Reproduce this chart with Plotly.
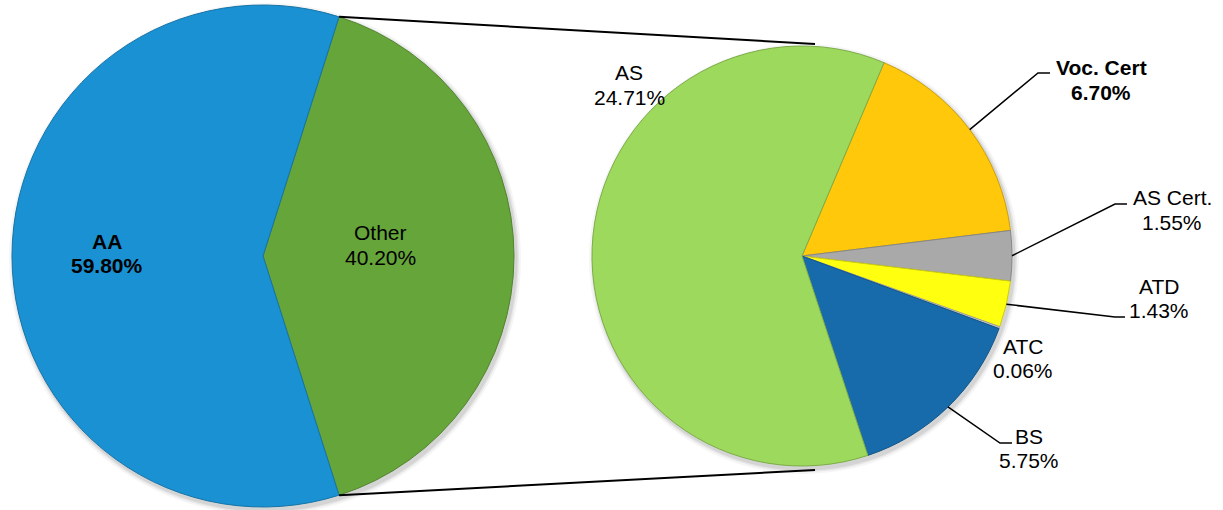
import math
import plotly.graph_objects as go

W, H = 1223, 510

# Main pie: share of awards
main_labels = ["Other", "AA"]
main_values = [40.20, 59.80]
main_colors = ["#66A53A", "#1A91D2"]
main_bold = [False, True]

# Breakdown of "Other"
sub_labels = ["Voc. Cert", "AS Cert.", "ATD", "ATC", "BS", "AS"]
sub_values = [6.70, 1.55, 1.43, 0.06, 5.75, 24.71]
sub_colors = ["#FFC80A", "#A9A9A9", "#FFFF10", "#C8C8C8", "#176BAA", "#9DD95C"]
sub_bold = [True, False, False, False, False, False]

FONT = "Liberation Sans, Arial, sans-serif"
FONT_SIZE = 21
LINE_GAP = 12  # half distance between the two text lines of a label

# pie geometry in pixels (center x, center y, radius)
LEFT = (263, 256, 251)
RIGHT = (802, 256, 210)
SUB_ROTATION = 23

other_sweep = 360 * main_values[0] / sum(main_values)
MAIN_ROTATION = 90 - other_sweep / 2


def px(x, y):
    return x / W, 1 - y / H


def on_circle(pie, angle):
    cx, cy, r = pie
    a = math.radians(angle)
    return cx + r * math.sin(a), cy - r * math.cos(a)


def domain(pie):
    cx, cy, r = pie
    return dict(x=[(cx - r) / W, (cx + r) / W], y=[1 - (cy + r) / H, 1 - (cy - r) / H])


def darker(hex_color, k=0.8):
    h = hex_color.lstrip("#")
    r, g, b = (int(h[i:i + 2], 16) for i in (0, 2, 4))
    return "rgb({},{},{})".format(int(r * k), int(g * k), int(b * k))


fig = go.Figure()

fig.add_trace(go.Pie(
    labels=main_labels, values=main_values, sort=False, direction="clockwise",
    rotation=MAIN_ROTATION, domain=domain(LEFT), textinfo="none",
    hoverinfo="label+percent",
    marker=dict(colors=main_colors, line=dict(color=[darker(c) for c in main_colors], width=1)),
    showlegend=False,
))

fig.add_trace(go.Pie(
    labels=sub_labels, values=sub_values, sort=False, direction="clockwise",
    rotation=SUB_ROTATION, domain=domain(RIGHT), textinfo="none",
    hoverinfo="label+value",
    marker=dict(colors=sub_colors, line=dict(color=[darker(c) for c in sub_colors], width=1)),
    showlegend=False,
))

shapes = []

# soft shadows under both pies
for pie in (LEFT, RIGHT):
    cx, cy, r = pie
    for grow, alpha in ((5, 0.04), (3, 0.06), (1.5, 0.08)):
        x0, y0 = px(cx - r - grow + 2, cy - r - grow + 3)
        x1, y1 = px(cx + r + grow + 2, cy + r + grow + 3)
        shapes.append(dict(type="circle", xref="paper", yref="paper", x0=x0, x1=x1, y0=y1, y1=y0,
                           fillcolor="rgba(0,0,0,{})".format(alpha), line=dict(width=0), layer="below"))

# connector lines between the edges of "Other" and the breakdown pie
left_top = on_circle(LEFT, MAIN_ROTATION)
left_bottom = on_circle(LEFT, MAIN_ROTATION + other_sweep)
rcx, rcy, rr = RIGHT
right_top = (rcx + 13, rcy - rr - 2)
right_bottom = (rcx + 13, rcy + rr + 4)
for a, b in ((left_top, right_top), (left_bottom, right_bottom)):
    x0, y0 = px(*a)
    x1, y1 = px(*b)
    shapes.append(dict(type="line", xref="paper", yref="paper", x0=x0, y0=y0, x1=x1, y1=y1,
                       line=dict(color="black", width=2)))


def fmt(v):
    return "{:.2f}%".format(v)


annotations = []


def add_label(name, value, x, y, bold):
    for text, yy in ((name, y - LINE_GAP), (fmt(value), y + LINE_GAP)):
        if bold:
            text = "<b>" + text + "</b>"
        ax, ay = px(x, yy)
        annotations.append(dict(x=ax, y=ay, xref="paper", yref="paper", text=text, showarrow=False,
                                xanchor="center", yanchor="middle",
                                font=dict(family=FONT, size=FONT_SIZE, color="black")))


# label centers (pixels)
main_label_pos = [(381, 245), (107, 253)]
for lab, val, pos, b in zip(main_labels, main_values, main_label_pos, main_bold):
    add_label(lab, val, pos[0], pos[1], b)

sub_label_pos = [(1101, 80), (1172, 210), (1159, 298), (1023, 358), (1029, 448), (629, 85)]
for lab, val, pos, b in zip(sub_labels, sub_values, sub_label_pos, sub_bold):
    add_label(lab, val, pos[0], pos[1], b)

# leader lines: from the middle of a slice edge to an elbow, then a short horizontal tail
leader_elbows = {
    "Voc. Cert": ((1038, 73), 1050),
    "AS Cert.": ((1115, 204), 1127),
    "ATD": ((1115, 317), 1125),
    "BS": ((1000, 443), 1012),
}
total_sub = sum(sub_values)
start = SUB_ROTATION
mid_angles = {}
for lab, val in zip(sub_labels, sub_values):
    sweep = 360 * val / total_sub
    mid_angles[lab] = start + sweep / 2
    start += sweep

for lab, (elbow, tail_x) in leader_elbows.items():
    sx, sy = on_circle(RIGHT, mid_angles[lab])
    pts = [(sx, sy), elbow, (tail_x, elbow[1])]
    path = "M " + " L ".join("{:.5f},{:.5f}".format(*px(x, y)) for x, y in pts)
    shapes.append(dict(type="path", xref="paper", yref="paper", path=path,
                       line=dict(color="black", width=1.5)))

fig.update_layout(
    width=W, height=H,
    margin=dict(l=0, r=0, t=0, b=0),
    paper_bgcolor="white", plot_bgcolor="white",
    shapes=shapes, annotations=annotations,
    font=dict(family=FONT, size=FONT_SIZE),
)

fig.write_html("out.html")
